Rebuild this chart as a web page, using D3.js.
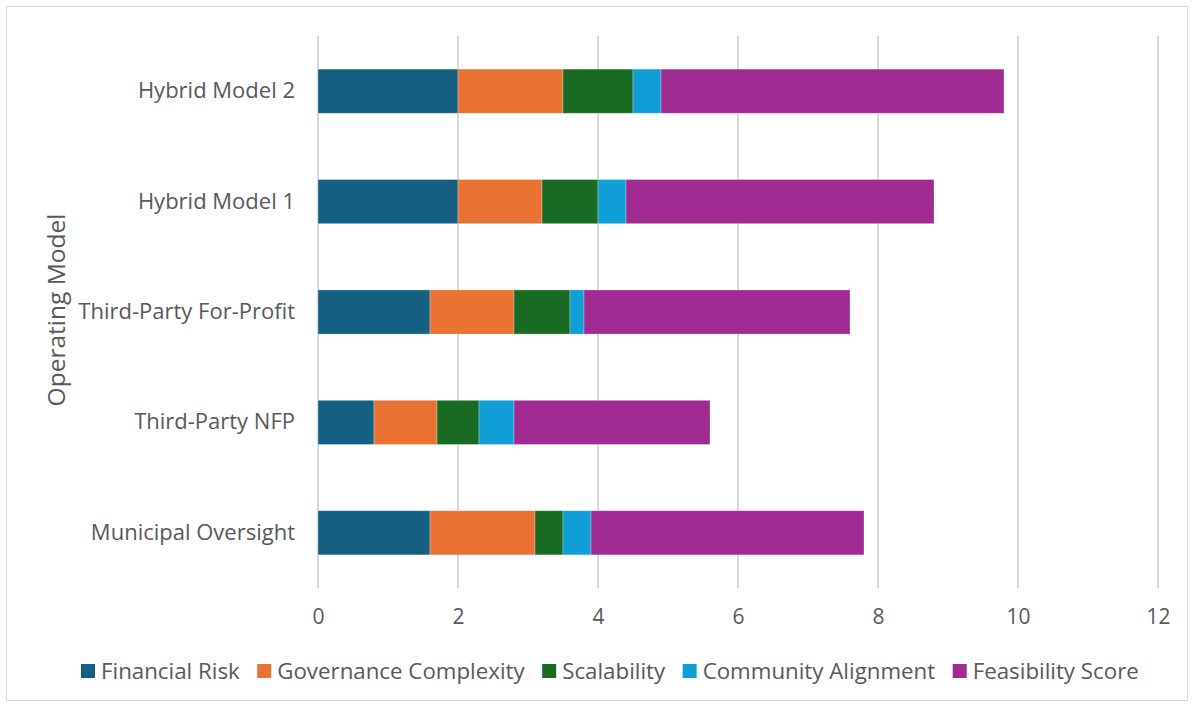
<!DOCTYPE html>
<html><head><meta charset="utf-8">
<script src="https://cdn.jsdelivr.net/npm/d3@7"></script>
<style>body{margin:0;background:#fff}svg{display:block}text{font-family:"Open Sans",sans-serif;fill:#595959}</style>
</head><body><svg id="c" width="1194" height="707"></svg>
<script>
const categories = ["Hybrid Model 2","Hybrid Model 1","Third-Party For-Profit","Third-Party NFP","Municipal Oversight"];
const seriesNames = ["Financial Risk","Governance Complexity","Scalability","Community Alignment","Feasibility Score"];
const financialRisk = [2.0, 2.0, 1.6, 0.8, 1.6];
const governanceComplexity = [1.5, 1.2, 1.2, 0.9, 1.5];
const scalability = [1.0, 0.8, 0.8, 0.6, 0.4];
const communityAlignment = [0.4, 0.4, 0.2, 0.5, 0.4];
const feasibilityScore = [4.9, 4.4, 3.8, 2.8, 3.9];
const xTicks = [0,2,4,6,8,10,12];
const colors = ["#156082","#E97132","#196B24","#0F9ED5","#A02B93"];

const seriesVals = [financialRisk, governanceComplexity, scalability, communityAlignment, feasibilityScore];
const data = categories.map((c,i)=>{const o={cat:c}; seriesNames.forEach((s,j)=>o[s]=seriesVals[j][i]); return o;});
const stack = d3.stack().keys(seriesNames)(data);

const svg = d3.select("#c");
svg.append("rect").attr("x",6.5).attr("y",6.5).attr("width",1181).attr("height",694).attr("fill","#fff").attr("stroke","#d9d9d9");

const x = d3.scaleLinear().domain([0,12]).range([318,1158]);
const y = d3.scaleBand().domain(categories).range([36,588]).paddingInner(0.6).paddingOuter(0.3);

svg.append("g").selectAll("line").data(xTicks).join("line")
  .attr("x1",d=>x(d)).attr("x2",d=>x(d)).attr("y1",36).attr("y2",588)
  .attr("stroke","#d9d9d9").attr("stroke-width",2);

svg.append("g").selectAll("g").data(stack).join("g").attr("fill",(d,i)=>colors[i])
  .selectAll("rect").data(d=>d).join("rect")
  .attr("x",d=>x(d[0])).attr("width",d=>x(d[1])-x(d[0]))
  .attr("y",d=>y(d.data.cat)).attr("height",y.bandwidth())
  .attr("stroke","rgba(255,255,255,0.35)").attr("stroke-width",0.8);

const xa = svg.append("g").attr("transform","translate(0,588)")
  .call(d3.axisBottom(x).tickValues(xTicks).tickSize(0).tickPadding(21).tickFormat(d3.format("d")));
xa.select(".domain").remove();
xa.selectAll("text").attr("font-size",21).style("font-family","'Open Sans',sans-serif").attr("fill","#595959");

const ya = svg.append("g").attr("transform","translate(318,0)")
  .call(d3.axisLeft(y).tickSize(0).tickPadding(23));
ya.select(".domain").remove();
ya.selectAll("text").attr("font-size",22).style("font-family","'Open Sans',sans-serif").attr("fill","#595959");

svg.append("text").attr("transform","translate(65,310) rotate(-90)").attr("text-anchor","middle")
  .attr("font-size",24.5).text("Operating Model");

// legend
const lg = svg.append("g");
let lx = 81;
seriesNames.forEach((s,i)=>{
  const g = lg.append("g").attr("transform",`translate(${lx},0)`);
  g.append("rect").attr("x",0).attr("y",664).attr("width",14).attr("height",14).attr("fill",colors[i]);
  const t = g.append("text").attr("x",20).attr("y",679).attr("font-size",22.3).text(s);
  lx += 20 + t.node().getComputedTextLength() + 17.5;
});
</script></body></html>
